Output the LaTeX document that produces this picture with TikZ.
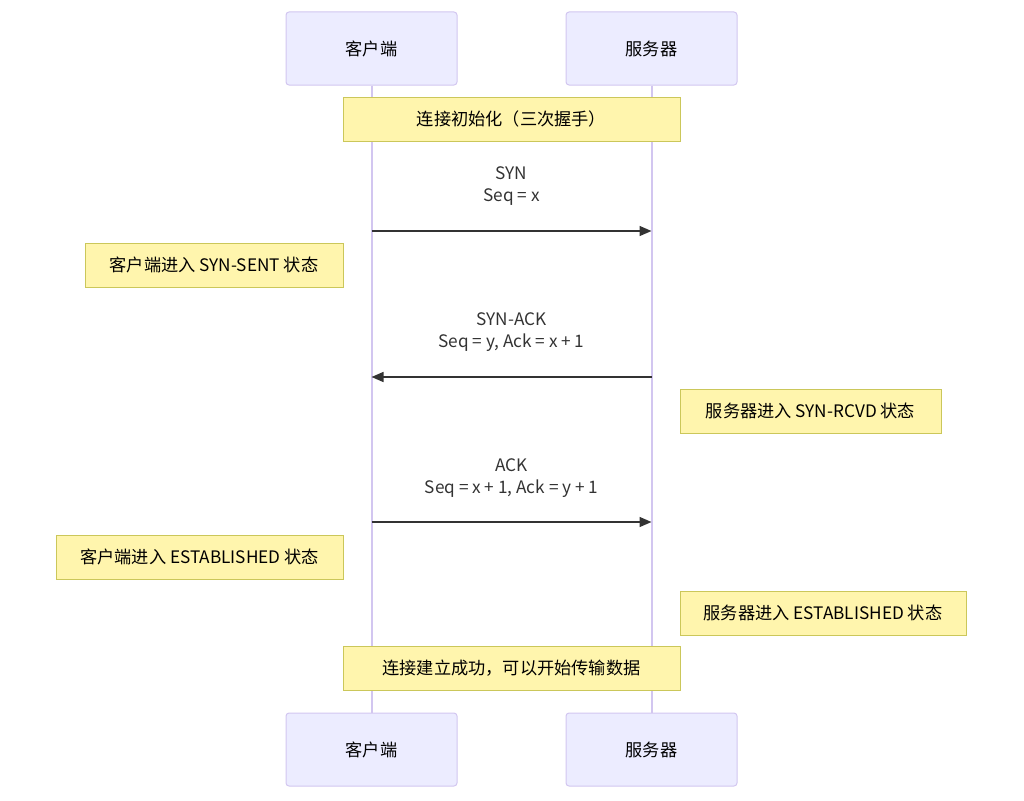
\documentclass[tikz,border=0pt]{standalone}
\usepackage{fontspec}
\setmainfont{Noto Sans CJK SC}
\usetikzlibrary{positioning,arrows.meta}

\definecolor{actorfill}{HTML}{ECECFF}
\definecolor{actorline}{HTML}{D2C6F0}
\definecolor{notefill}{HTML}{FFF5AD}
\definecolor{noteline}{HTML}{CBC75A}
\definecolor{msgline}{HTML}{333333}

\tikzset{
  actor/.style={draw=actorline, fill=actorfill, rounded corners=3pt, line width=1pt,
    minimum width=171pt, minimum height=73pt, inner sep=0pt},
  note/.style={draw=noteline, fill=notefill, line width=1pt,
    minimum height=44pt, inner sep=0pt},
  lifeline/.style={draw=actorline, line width=2pt},
  msg/.style={draw=msgline, line width=1.4pt, -{Triangle[length=12pt,width=10pt]}},
  msglabel/.style={align=center, text=msgline, inner sep=0pt}
}

\begin{document}
\begin{tikzpicture}[x=1pt, y=-1pt, font=\fontsize{17.2}{22}\selectfont]
\useasboundingbox (0,0) rectangle (1024,800);

% actors, top and bottom
\node[actor] (cTop) at (371.5,48.5) {客户端};
\node[actor] (sTop) at (651.5,48.5) {服务器};
\node[actor] (cBot) at (371.5,749.5) {客户端};
\node[actor] (sBot) at (651.5,749.5) {服务器};

% lifelines
\draw[lifeline] (cTop.south) -- (cBot.north);
\draw[lifeline] (sTop.south) -- (sBot.north);

% notes
\node[note, minimum width=337pt] (noteInit) at (511.5,119) {连接初始化（三次握手）};
\node[note, minimum width=258pt] (noteSynSent) at (214,265) {客户端进入 SYN-SENT 状态};
\node[note, minimum width=261pt] (noteSynRcvd) at (810.5,411) {服务器进入 SYN-RCVD 状态};
\node[note, minimum width=287pt] (noteCEst) at (199.5,557) {客户端进入 ESTABLISHED 状态};
\node[note, minimum width=286pt] (noteSEst) at (823,613) {服务器进入 ESTABLISHED 状态};
\node[note, minimum width=337pt] (noteDone) at (511.5,668) {连接建立成功，可以开始传输数据};

% messages
\foreach \y/\name in {231/syn, 377/synack, 522/ack}
{
  \coordinate (c-\name) at (371.5,\y);
  \coordinate (s-\name) at (651.5,\y);
}
\node[msglabel] (lSyn) at (511.5,186) {SYN\\Seq = x};
\node[msglabel] (lSynAck) at (511.5,332) {SYN-ACK\\Seq = y, Ack = x + 1};
\node[msglabel] (lAck) at (511.5,478) {ACK\\Seq = x + 1, Ack = y + 1};

\draw[msg] (c-syn) -- (s-syn);
\draw[msg] (s-synack) -- (c-synack);
\draw[msg] (c-ack) -- (s-ack);

\end{tikzpicture}
\end{document}
